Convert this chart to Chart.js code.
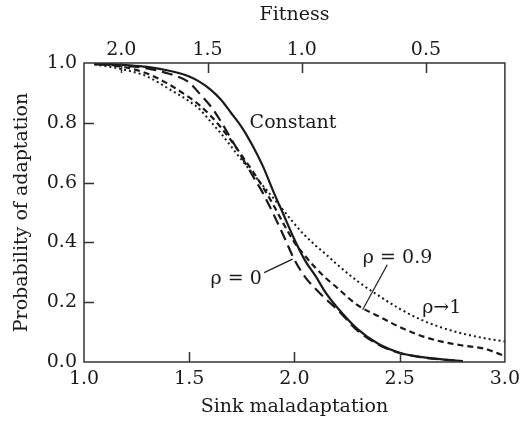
<!DOCTYPE html>
<html>
<head>
<meta charset="utf-8">
<script src="https://cdn.jsdelivr.net/npm/chart.js@4.4.0/dist/chart.umd.min.js"></script>
<style>
  html, body { margin: 0; padding: 0; background: #fff; }
  #wrap { width: 526px; height: 425px; }
</style>
</head>
<body>
<div id="wrap"><canvas id="chart" width="526" height="425"></canvas></div>
<script>
// sink maladaptation values where the curves were read
const sinkX = [1.05, 1.1, 1.2, 1.3, 1.4, 1.5, 1.55, 1.6, 1.65, 1.7, 1.75, 1.8, 1.85, 1.9, 1.95,
               2.0, 2.05, 2.1, 2.15, 2.2, 2.3, 2.4, 2.5, 2.6, 2.7, 2.8, 2.9, 3.0];

const constant = [0.998, 0.997, 0.993, 0.987, 0.975, 0.955, 0.937, 0.912, 0.878, 0.832, 0.785, 0.725, 0.655, 0.57, 0.49,
                  0.41, 0.34, 0.288, 0.23, 0.185, 0.11, 0.06, 0.031, 0.017, 0.009, 0.003, null, null];
const rho0 = [0.996, 0.994, 0.99, 0.982, 0.965, 0.935, 0.897, 0.857, 0.805, 0.745, 0.685, 0.625, 0.565, 0.495, 0.42,
              0.342, 0.285, 0.245, 0.21, 0.178, 0.105, 0.058, 0.03, 0.016, 0.008, 0.003, null, null];
const rho09 = [0.997, 0.995, 0.985, 0.965, 0.93, 0.885, 0.858, 0.825, 0.785, 0.74, 0.69, 0.64, 0.585, 0.525, 0.46,
               0.40, 0.355, 0.315, 0.28, 0.25, 0.19, 0.153, 0.117, 0.088, 0.068, 0.055, 0.045, 0.02];
const rho1 = [0.995, 0.99, 0.976, 0.955, 0.915, 0.872, 0.845, 0.805, 0.765, 0.72, 0.675, 0.632, 0.59, 0.548, 0.505,
              0.462, 0.423, 0.39, 0.36, 0.328, 0.27, 0.222, 0.178, 0.142, 0.115, 0.095, 0.08, 0.069];

// top axis: fitness labels and where they fall on the sink scale
const fitnessLabels = ['2.0', '1.5', '1.0', '0.5'];
const fitnessAt = [1.177, 1.587, 2.035, 2.625];

const ink = '#1a1a1a';
const fontFamily = 'DejaVu Serif';
const fontSize = 19;

Chart.defaults.font.family = fontFamily;
Chart.defaults.font.size = fontSize;
Chart.defaults.color = ink;

function pts(ys) {
  return sinkX.map((x, i) => ({ x: x, y: ys[i] }));
}

// labels and leader lines, given in data units
const notes = [
  { text: 'Constant', x: 1.787, y: 0.798, align: 'left' },
  { text: 'ρ = 0', x: 1.845, y: 0.278, align: 'right', line: [1.856, 0.299, 1.991, 0.344] },
  { text: 'ρ = 0.9', x: 2.49, y: 0.348, align: 'center', line: [2.441, 0.325, 2.324, 0.175] },
  { text: 'ρ→1', x: 2.7, y: 0.181, align: 'center' }
];

const framePlugin = {
  id: 'frame',
  afterDatasetsDraw(chart) {
    const { ctx, chartArea: a, scales } = chart;
    const tick = 10;
    ctx.save();
    ctx.strokeStyle = '#333';
    ctx.lineWidth = 1.5;
    ctx.strokeRect(a.left, a.top, a.right - a.left, a.bottom - a.top);

    ctx.beginPath();
    scales.x.ticks.forEach(t => {
      if (t.value <= scales.x.min || t.value >= scales.x.max) return;
      const px = Math.round(scales.x.getPixelForValue(t.value)) + 0.5;
      ctx.moveTo(px, a.bottom);
      ctx.lineTo(px, a.bottom - tick);
    });
    scales.x2.ticks.forEach(t => {
      const px = Math.round(scales.x2.getPixelForValue(t.value)) + 0.5;
      ctx.moveTo(px, a.top);
      ctx.lineTo(px, a.top + tick);
    });
    scales.y.ticks.forEach(t => {
      if (t.value <= scales.y.min || t.value >= scales.y.max) return;
      const py = Math.round(scales.y.getPixelForValue(t.value)) + 0.5;
      ctx.moveTo(a.left, py);
      ctx.lineTo(a.left + tick, py);
    });
    ctx.stroke();

    // annotations
    ctx.fillStyle = ink;
    ctx.strokeStyle = ink;
    ctx.lineWidth = 1.2;
    ctx.font = fontSize + 'px "' + fontFamily + '"';
    ctx.textBaseline = 'middle';
    notes.forEach(n => {
      ctx.textAlign = n.align;
      ctx.fillText(n.text, scales.x.getPixelForValue(n.x), scales.y.getPixelForValue(n.y));
      if (n.line) {
        ctx.beginPath();
        ctx.moveTo(scales.x.getPixelForValue(n.line[0]), scales.y.getPixelForValue(n.line[1]));
        ctx.lineTo(scales.x.getPixelForValue(n.line[2]), scales.y.getPixelForValue(n.line[3]));
        ctx.stroke();
      }
    });
    ctx.restore();
  }
};

function series(label, ys, width, dash) {
  return {
    label: label,
    data: pts(ys),
    borderColor: ink,
    borderWidth: width,
    borderDash: dash,
    pointRadius: 0,
    fill: false,
    tension: 0.4,
    cubicInterpolationMode: 'monotone',
    spanGaps: false
  };
}

new Chart(document.getElementById('chart'), {
  type: 'line',
  data: {
    datasets: [
      series('Constant', constant, 2.2, []),
      series('ρ = 0', rho0, 2.2, [11, 6]),
      series('ρ = 0.9', rho09, 2.2, [6, 4]),
      series('ρ→1', rho1, 2, [2, 3])
    ]
  },
  options: {
    responsive: false,
    animation: false,
    devicePixelRatio: 1,
    layout: { padding: { left: 0, right: 15, top: 0, bottom: 0 } },
    plugins: { legend: { display: false }, tooltip: { enabled: false } },
    scales: {
      x: {
        type: 'linear',
        position: 'bottom',
        min: 1, max: 3,
        grid: { display: false, drawTicks: false },
        border: { display: false },
        ticks: { stepSize: 0.5, padding: 6, maxRotation: 0, callback: v => v.toFixed(1) },
        title: { display: true, text: 'Sink maladaptation', padding: { top: 0, bottom: 7 } },
        afterFit: s => { s.height = 63; }
      },
      x2: {
        type: 'linear',
        position: 'top',
        min: 1, max: 3,
        grid: { display: false, drawTicks: false },
        border: { display: false },
        afterBuildTicks: s => { s.ticks = fitnessAt.map(v => ({ value: v })); },
        ticks: { autoSkip: false, padding: 2, maxRotation: 0, callback: (v, i) => fitnessLabels[i] },
        title: { display: true, text: 'Fitness', padding: { top: 4, bottom: 0 } },
        afterFit: s => { s.height = 63; }
      },
      y: {
        min: 0, max: 1,
        grid: { display: false, drawTicks: false },
        border: { display: false },
        ticks: { stepSize: 0.2, padding: 7, callback: v => v.toFixed(1) },
        title: { display: true, text: 'Probability of adaptation', padding: { top: 11, bottom: 0 } },
        afterFit: s => { s.width = 84; }
      }
    }
  },
  plugins: [framePlugin]
});
</script>
</body>
</html>
